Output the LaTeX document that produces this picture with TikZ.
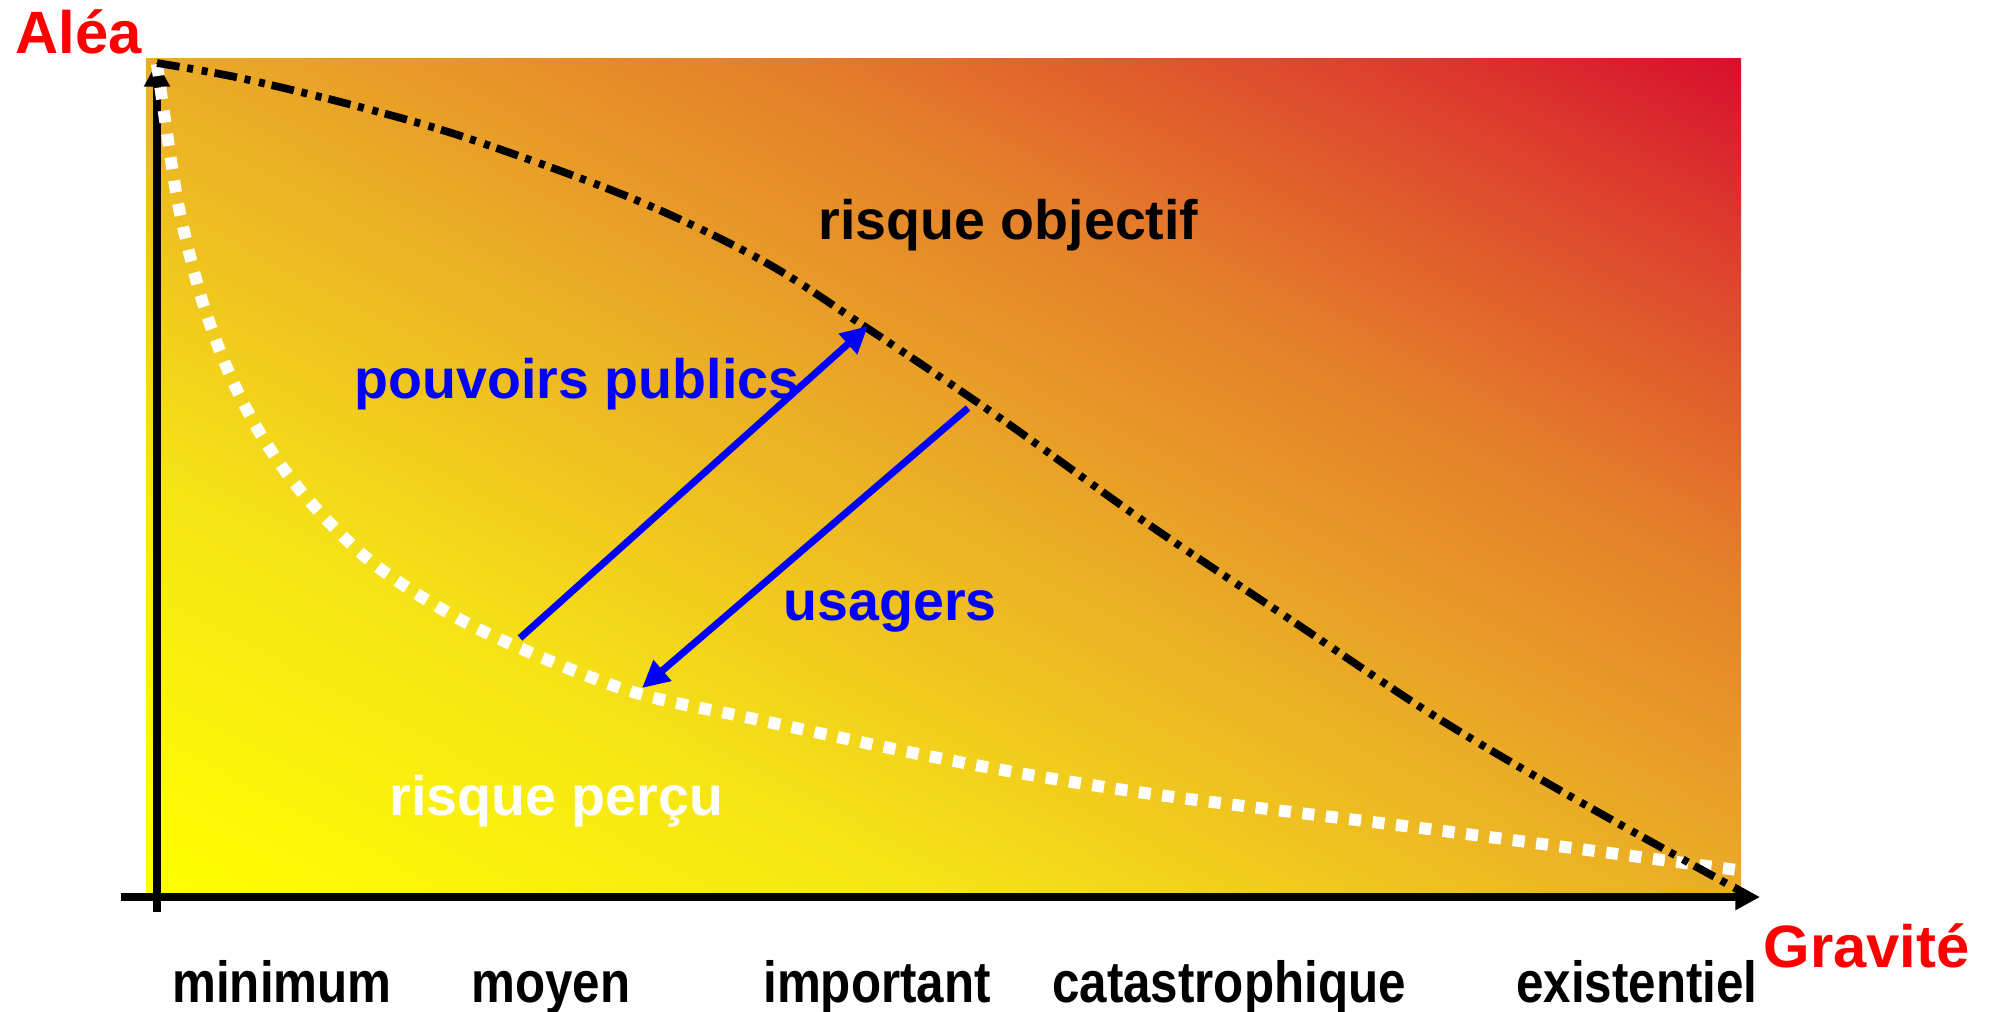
\documentclass[tikz,border=0pt]{standalone}
\usepackage{fontspec}
\setmainfont{Liberation Sans}
\usepackage{tikz}
\usetikzlibrary{arrows.meta}

\definecolor{gyellow}{RGB}{255,255,0}
\definecolor{ggold}{RGB}{246,228,22}
\definecolor{gorange}{RGB}{234,172,38}
\definecolor{gamber}{RGB}{228,125,42}
\definecolor{gdeep}{RGB}{222,75,45}
\definecolor{gred}{RGB}{215,15,45}
\pgfdeclarehorizontalshading{riskgrad}{100bp}{color(0bp)=(gyellow); color(25bp)=(gyellow); color(37.5bp)=(ggold); color(50bp)=(gorange); color(60bp)=(gamber); color(67.5bp)=(gdeep); color(75bp)=(gred); color(100bp)=(gred)}

\begin{document}
\begin{tikzpicture}[
  x=0.01cm, y=-0.01cm,
  lab/.style={inner sep=0pt,anchor=base west,font=\bfseries\fontsize{15.8}{18}\selectfont},
  axlab/.style={inner sep=0pt,anchor=base west,text=red,font=\bfseries\fontsize{17}{20}\selectfont},
  level/.style={inner sep=0pt,anchor=base,xscale=0.85,font=\bfseries\fontsize{16.5}{19}\selectfont},
  axis/.style={line width=2.3pt,-{Triangle[length=7pt,width=7pt]}},
  flow/.style={blue,line width=2pt,-{Triangle[length=7.7pt,width=7.4pt]}},
  objective/.style={line width=2.2pt,dash pattern=on 6.5pt off 2.2pt on 1.7pt off 2.5pt on 1.7pt off 2pt},
  perceived/.style={white,line width=3.4pt,dash pattern=on 3.4pt off 3.3pt}
]
\useasboundingbox (0,0) rectangle (1995,1011);
\fill[white] (0,0) rectangle (1995,1011);

% risk field: gradient runs bottom-left -> top-right, isolines along the other diagonal
\begin{scope}
\clip (146,58) rectangle (1741,893);
\begin{scope}[transform canvas={cm={7.975,4.175,7.975,-4.175,(9.435cm,-4.755cm)}}]
\shade[shading=riskgrad] (-1cm,-1cm) rectangle (1cm,1cm);
\end{scope}
\end{scope}

% axes
\coordinate (ybot) at (157,912);
\coordinate (ytop) at (157,62);
\coordinate (xleft) at (121,897);
\coordinate (xright) at (1760,897);
\draw[axis] (ybot) -- (ytop);
\draw[axis] (xleft) -- (xright);

% curves
\draw[perceived] plot[smooth,tension=0.55] coordinates {(157,64) (168,140) (180,213) (202,300) (230,375) (263,438) (305,496) (369,560) (445,611) (522,649) (633,692) (750,718) (954,761) (1145,793) (1436,830) (1737,870)};
\draw[objective] plot[smooth,tension=0.55] coordinates {(157,63) (240,78) (360,107) (473,140) (636,200) (763,261) (867,328) (1000,418) (1145,522) (1291,620) (1436,717) (1582,803) (1742,892)};

% flows
\coordinate (pubS) at (520,638);
\coordinate (pubE) at (868,326);
\coordinate (usaS) at (968,408);
\coordinate (usaE) at (642,688);
\draw[flow] (pubS) -- (pubE);
\draw[flow] (usaS) -- (usaE);

% labels
\node[axlab] (alea) at (15,53) {Aléa};
\node[axlab] (grav) at (1763,967) {Gravité};
\node[lab] (obj) at (818,239) {risque objectif};
\node[lab,text=blue] (pub) at (354,398) {pouvoirs publics};
\node[lab,text=blue] (usa) at (783,620) {usagers};
\node[lab,text=white] (per) at (389,815) {risque perçu};

\node[level] (lmin) at (282,1002) {minimum};
\node[level] (lmoy) at (551,1002) {moyen};
\node[level] (limp) at (877,1002) {important};
\node[level] (lcat) at (1229,1002) {catastrophique};
\node[level] (lexi) at (1637,1002) {existentiel};
\end{tikzpicture}
\end{document}
